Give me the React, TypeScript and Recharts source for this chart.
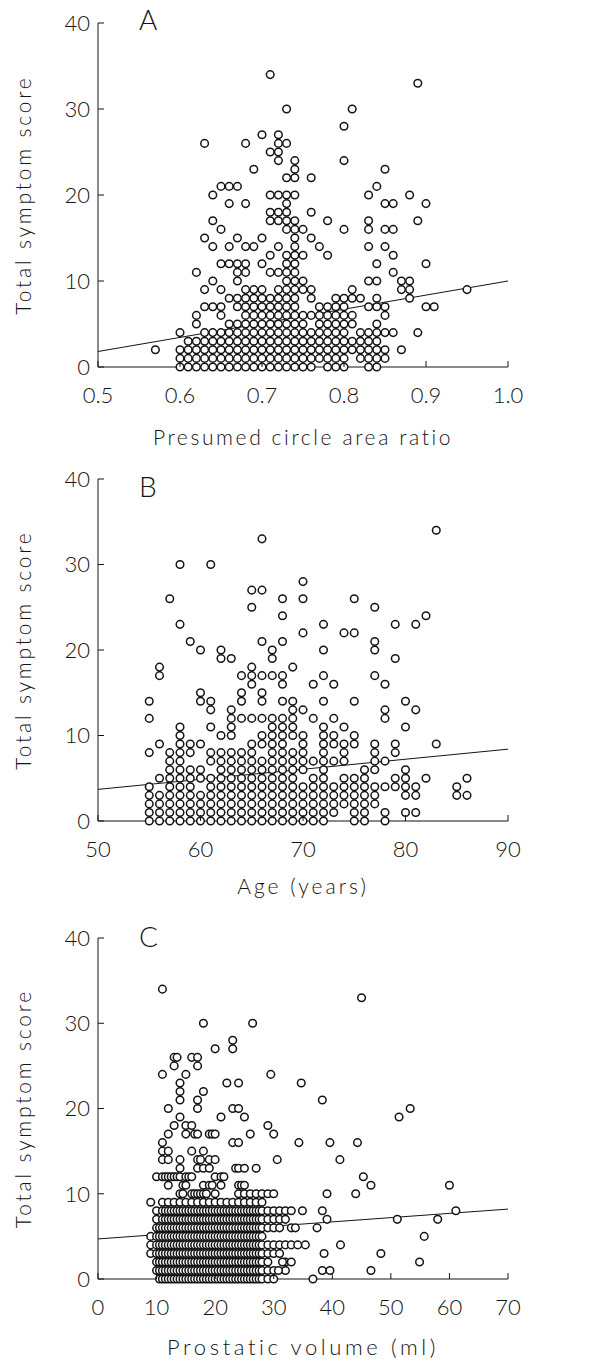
import { ScatterChart, Scatter, XAxis, YAxis, ReferenceLine } from 'recharts'

type Col = [number, number[]]

const INK = '#141414'
const FONT = "Lato, 'Open Sans', 'Liberation Sans', sans-serif"

// shared y axis
const scoreTicks = [0, 10, 20, 30, 40]
const scoreTitle = 'Total symptom score'

// A: presumed circle area ratio (x) -> scores stacked per column
const ratioTicks = [0.5, 0.6, 0.7, 0.8, 0.9, 1.0]
const ratioCols: Col[] = [
  [0.57, [2]],
  [0.6, [0, 1, 2, 4]],
  [0.61, [0, 1, 2, 3]],
  [0.62, [0, 1, 2, 3, 5, 6, 11]],
  [0.63, [0, 1, 2, 3, 4, 7, 9, 15, 26]],
  [0.64, [0, 1, 2, 3, 4, 7, 10, 14, 17, 20]],
  [0.65, [0, 1, 2, 3, 4, 6, 7, 9, 12, 16, 21]],
  [0.66, [0, 1, 2, 3, 4, 5, 8, 12, 14, 19, 21]],
  [0.67, [0, 1, 2, 3, 4, 5, 7, 8, 10, 11, 12, 15, 21]],
  [0.68, [0, 1, 2, 3, 4, 5, 6, 7, 8, 9, 11, 12, 14, 19, 26]],
  [0.69, [0, 1, 2, 3, 4, 5, 6, 7, 8, 9, 14, 23]],
  [0.7, [0, 1, 2, 3, 4, 5, 6, 7, 8, 9, 12, 15, 27]],
  [0.71, [0, 1, 2, 3, 4, 5, 6, 7, 8, 11, 13, 17, 18, 20, 25, 34]],
  [0.72, [0, 1, 2, 3, 4, 5, 6, 7, 8, 9, 11, 14, 17, 18, 20, 24, 25, 26, 27]],
  [0.73, [0, 1, 2, 3, 4, 5, 6, 7, 8, 9, 10, 11, 12, 13, 16, 17, 18, 19, 20, 22, 26, 30]],
  [0.74, [0, 1, 2, 3, 4, 5, 6, 7, 8, 9, 10, 11, 12, 13, 14, 15, 16, 17, 20, 22, 23, 24]],
  [0.75, [0, 1, 2, 3, 4, 5, 6, 9, 10, 13, 16]],
  [0.76, [0, 1, 2, 3, 4, 6, 8, 9, 15, 18, 22]],
  [0.77, [1, 2, 3, 4, 5, 6, 7, 14]],
  [0.78, [0, 1, 2, 3, 4, 5, 6, 7, 13, 17]],
  [0.79, [0, 1, 2, 3, 4, 5, 6, 7, 8]],
  [0.8, [0, 1, 2, 3, 4, 5, 6, 7, 8, 16, 24, 28]],
  [0.81, [2, 3, 5, 6, 8, 9, 30]],
  [0.82, [1, 2, 3, 4, 8]],
  [0.83, [0, 1, 2, 3, 4, 7, 10, 14, 16, 17, 20]],
  [0.84, [0, 1, 2, 3, 4, 5, 7, 8, 10, 12, 21]],
  [0.85, [1, 2, 4, 6, 7, 14, 16, 19, 23]],
  [0.86, [4, 11, 13, 16, 19]],
  [0.87, [2, 9, 10]],
  [0.88, [8, 9, 10, 20]],
  [0.89, [4, 17, 33]],
  [0.9, [7, 12, 19]],
  [0.91, [7]],
  [0.95, [9]],
]
const ratioFit = [{ x: 0.5, y: 1.8 }, { x: 1.0, y: 10 }]

// B: age in years
const ageTicks = [50, 60, 70, 80, 90]
const ageCols: Col[] = [
  [55, [0, 1, 2, 3, 4, 8, 12, 14]],
  [56, [0, 1, 2, 3, 5, 9, 17, 18]],
  [57, [0, 1, 2, 3, 4, 5, 6, 7, 8, 26]],
  [58, [0, 1, 2, 3, 4, 5, 6, 7, 8, 9, 10, 11, 23, 30]],
  [59, [0, 1, 2, 3, 4, 5, 6, 8, 9, 21]],
  [60, [0, 1, 2, 3, 5, 6, 9, 14, 15, 20]],
  [61, [0, 1, 2, 3, 4, 5, 7, 8, 11, 13, 14, 30]],
  [62, [0, 1, 2, 3, 4, 5, 6, 7, 8, 10, 19, 20]],
  [63, [0, 1, 2, 3, 4, 5, 6, 7, 8, 10, 11, 12, 13, 19]],
  [64, [0, 1, 2, 3, 4, 5, 6, 7, 8, 12, 14, 15, 17]],
  [65, [0, 1, 2, 3, 4, 5, 6, 7, 8, 9, 12, 16, 17, 18, 25, 27]],
  [66, [0, 1, 2, 3, 4, 5, 6, 7, 9, 10, 12, 14, 15, 17, 21, 27, 33]],
  [67, [0, 1, 2, 3, 4, 5, 6, 7, 8, 9, 10, 11, 12, 17, 19, 20]],
  [68, [0, 1, 2, 3, 4, 5, 6, 7, 8, 9, 10, 11, 12, 14, 16, 17, 21, 24, 26]],
  [69, [0, 1, 2, 3, 4, 5, 6, 7, 8, 10, 11, 12, 13, 14, 18]],
  [70, [0, 1, 2, 3, 4, 6, 7, 8, 9, 10, 13, 22, 26, 28]],
  [71, [0, 1, 2, 3, 4, 5, 7, 12, 16]],
  [72, [0, 1, 2, 3, 4, 5, 6, 7, 8, 9, 10, 11, 14, 17, 20, 23]],
  [73, [1, 2, 3, 4, 7, 9, 10, 12, 16]],
  [74, [2, 3, 4, 5, 7, 8, 9, 11, 22]],
  [75, [0, 1, 2, 3, 4, 5, 9, 10, 14, 22, 26]],
  [76, [0, 1, 2, 3, 4, 5, 6]],
  [77, [2, 3, 4, 6, 7, 8, 9, 17, 20, 21, 25]],
  [78, [0, 1, 4, 7, 12, 13, 16]],
  [79, [4, 5, 8, 9, 19, 23]],
  [80, [1, 3, 4, 5, 6, 11, 14]],
  [81, [1, 3, 4, 13, 23]],
  [82, [5, 24]],
  [83, [9, 34]],
  [85, [3, 4]],
  [86, [3, 5]],
]
const ageFit = [{ x: 50, y: 3.7 }, { x: 90, y: 8.4 }]

// C: prostatic volume (ml)
const volumeTicks = [0, 10, 20, 30, 40, 50, 60, 70]
const volumeCols: Col[] = [
  [9, [3, 4, 5, 9]],
  [10, [1, 2, 3, 4, 5, 6, 7, 8, 12]],
  [10.5, [0, 1, 2, 3, 4, 5, 6]],
  [11, [0, 1, 2, 3, 4, 5, 6, 7, 8, 9, 12, 14, 15, 16, 24, 34]],
  [11.5, [0, 1, 2, 3, 4, 5, 6, 7, 8, 12]],
  [12, [0, 1, 2, 3, 4, 5, 6, 7, 8, 9, 11, 12, 14, 15, 17, 20]],
  [12.5, [0, 1, 2, 3, 4, 5, 6, 7, 8, 12]],
  [13, [0, 1, 2, 3, 4, 5, 6, 7, 8, 9, 12, 18, 25, 26]],
  [13.5, [0, 1, 2, 3, 4, 5, 6, 7, 8, 12, 26]],
  [14, [0, 1, 2, 3, 4, 5, 6, 7, 8, 9, 10, 12, 13, 14, 19, 21, 22, 23]],
  [14.5, [0, 1, 2, 3, 4, 5, 6, 7, 8, 10, 11]],
  [15, [0, 1, 2, 3, 4, 5, 6, 7, 8, 9, 11, 12, 17, 18, 24]],
  [15.5, [0, 1, 2, 3, 4, 5, 6, 7, 8, 12]],
  [16, [0, 1, 2, 3, 4, 5, 6, 7, 8, 9, 10, 12, 15, 18, 26]],
  [16.5, [0, 1, 2, 3, 4, 5, 6, 7, 8, 10, 17]],
  [17, [0, 1, 2, 3, 4, 5, 6, 7, 8, 9, 10, 13, 14, 17, 20, 21, 25, 26]],
  [17.5, [0, 1, 2, 3, 4, 5, 6, 7, 8, 10, 14]],
  [18, [0, 1, 2, 3, 4, 5, 6, 7, 8, 9, 10, 11, 13, 15, 22, 30]],
  [18.5, [0, 1, 2, 3, 4, 5, 6, 7, 8, 10]],
  [19, [0, 1, 2, 3, 4, 5, 6, 7, 8, 9, 11, 13, 14, 17]],
  [19.5, [0, 1, 2, 3, 4, 5, 6, 7, 8, 11, 17]],
  [20, [0, 1, 2, 3, 4, 5, 6, 7, 8, 9, 10, 12, 14, 17, 27]],
  [20.5, [0, 1, 2, 3, 4, 5, 6, 7, 8]],
  [21, [0, 1, 2, 3, 4, 5, 6, 7, 8, 9, 11, 12, 19]],
  [21.5, [0, 1, 2, 3, 4, 5, 6, 7, 8, 12]],
  [22, [0, 1, 2, 3, 4, 5, 6, 7, 8, 9, 23]],
  [22.5, [0, 1, 2, 3, 4, 5, 6, 7, 8]],
  [23, [0, 1, 2, 3, 4, 5, 6, 7, 8, 9, 16, 20, 27, 28]],
  [23.5, [0, 1, 2, 3, 4, 5, 6, 7, 8, 13]],
  [24, [0, 1, 2, 3, 4, 5, 6, 7, 8, 9, 10, 11, 13, 16, 20, 23]],
  [24.5, [0, 1, 2, 3, 4, 5, 6, 7, 8, 11]],
  [25, [0, 1, 2, 3, 4, 5, 6, 7, 8, 9, 10, 11, 13, 19]],
  [25.5, [0, 1, 2, 3, 4, 5, 6, 7, 8]],
  [26, [0, 1, 2, 3, 4, 5, 6, 7, 8, 9, 10, 17]],
  [26.5, [0, 1, 2, 3, 4, 5, 6, 7, 8]],
  [27, [0, 1, 2, 3, 4, 5, 6, 7, 8, 9, 10, 13]],
  [27.5, [0, 1, 2, 3, 4, 5, 6, 7, 8]],
  [28, [0, 1, 2, 3, 4, 5, 6, 7, 8, 9, 10]],
  [29, [0, 1, 2, 3, 4, 6, 7, 8, 10, 18]],
  [30, [0, 1, 3, 4, 6, 7, 8, 10, 17]],
  [31, [3, 4, 6, 7, 8]],
  [32, [2, 4, 7, 8]],
  [33, [2, 4, 6, 8]],
]
// scattered cases to the right
const volumeLoose: [number, number][] = [
  [26.4, 30], [30.6, 14], [29.5, 24], [34.7, 23], [38.3, 21], [51.4, 19], [53.3, 20],
  [34.3, 16], [39.6, 16], [44.3, 16], [41.3, 14], [45.3, 12], [46.6, 11], [60, 11],
  [39.1, 10], [44, 10], [61.1, 8], [51.1, 7], [58, 7], [39.1, 7], [38.3, 8], [55.7, 5],
  [41.4, 4], [48.3, 3], [54.9, 2], [46.6, 1], [38.3, 1], [39.6, 1], [36.7, 0], [38.6, 3],
  [37.4, 6], [33.7, 6], [34.9, 8], [35.4, 4], [34.1, 4], [31.5, 2], [32, 1], [30.8, 1],
  [45, 33],
]
const volumeFit = [{ x: 0, y: 4.7 }, { x: 70, y: 8.2 }]

const toPoints = (cols: Col[]) => cols.flatMap(([x, ys]) => ys.map((y) => ({ x, y })))

const Dot = (props: any) => (
  <circle cx={props.cx} cy={props.cy} r={3.8} fill="#fff" stroke={INK} strokeWidth={1.5} />
)

function XTick(props: any) {
  const { x, y, payload, fmt } = props
  return (
    <g>
      <line x1={x} y1={y} x2={x} y2={y - 6} stroke={INK} strokeWidth={1} />
      <text x={x} y={y + 36} textAnchor="middle" fontSize={22} fontWeight={300}
        fontFamily={FONT} fill={INK}>{fmt(payload.value)}</text>
    </g>
  )
}

function YTick(props: any) {
  const { x, y, payload } = props
  return (
    <g>
      <line x1={x} y1={y} x2={x + 6} y2={y} stroke={INK} strokeWidth={1} />
      <text x={x - 8} y={y} dy="0.36em" textAnchor="end" fontSize={22} fontWeight={300}
        fontFamily={FONT} fill={INK}>{payload.value}</text>
    </g>
  )
}

interface PanelProps {
  plotTop: number
  plotH: number
  letter: string
  letterTop: number
  points: { x: number; y: number }[]
  fit: { x: number; y: number }[]
  domain: [number, number]
  ticks: number[]
  fmt: (v: number) => string
  title: string
  titleSize: number
  titleSpacing: number
  titleOffset: number
}

function Panel(p: PanelProps) {
  const axisH = 92
  const h = 23 + p.plotH + axisH
  return (
    <div style={{ position: 'absolute', left: 0, top: p.plotTop - 23, width: 589, height: h }}>
      <ScatterChart width={589} height={h} margin={{ top: 23, right: 81, bottom: 0, left: 0 }}>
        <XAxis type="number" dataKey="x" domain={p.domain} ticks={p.ticks} interval={0}
          height={axisH} tickSize={0} tickMargin={0} tickLine={false}
          axisLine={{ stroke: INK, strokeWidth: 1 }}
          tick={(t: any) => <XTick {...t} fmt={p.fmt} />}
          label={{ value: p.title, position: 'insideBottom', offset: p.titleOffset,
            style: { fontSize: p.titleSize, fontFamily: FONT, fontWeight: 300, fill: INK, letterSpacing: p.titleSpacing } }} />
        <YAxis type="number" dataKey="y" domain={[0, 40]} ticks={scoreTicks} interval={0}
          width={98} tickSize={0} tickMargin={0} tickLine={false}
          axisLine={{ stroke: INK, strokeWidth: 1 }}
          tick={(t: any) => <YTick {...t} />}
          label={{ value: scoreTitle, angle: -90, position: 'insideLeft', offset: 24,
            style: { textAnchor: 'middle', fontSize: 21, fontFamily: FONT, fontWeight: 300, fill: INK, letterSpacing: 2.8 } }} />
        <Scatter data={p.points} shape={Dot} isAnimationActive={false} />
        <ReferenceLine segment={p.fit} stroke={INK} strokeWidth={1} ifOverflow="visible" />
      </ScatterChart>
      <div style={{ position: 'absolute', left: 139, top: p.letterTop - (p.plotTop - 23) - 7,
        fontFamily: FONT, fontSize: 28, fontWeight: 300, color: INK, lineHeight: 1 }}>{p.letter}</div>
    </div>
  )
}

export default function App() {
  return (
    <div style={{ position: 'absolute', left: 0, top: 0, width: 589, height: 1361, background: '#fff' }}>
      <Panel plotTop={23} plotH={344} letter="A" letterTop={12} points={toPoints(ratioCols)}
        fit={ratioFit} domain={[0.5, 1.0]} ticks={ratioTicks} fmt={(v) => v.toFixed(1)}
        title="Presumed circle area ratio" titleSize={21} titleSpacing={2.6} titleOffset={14} />
      <Panel plotTop={479} plotH={342} letter="B" letterTop={479} points={toPoints(ageCols)}
        fit={ageFit} domain={[50, 90]} ticks={ageTicks} fmt={(v) => String(v)}
        title="Age (years)" titleSize={21} titleSpacing={3} titleOffset={19} />
      <Panel plotTop={938} plotH={341} letter="C" letterTop={929}
        points={[...toPoints(volumeCols), ...volumeLoose.map(([x, y]) => ({ x, y }))]}
        fit={volumeFit} domain={[0, 70]} ticks={volumeTicks} fmt={(v) => String(v)}
        title="Prostatic volume (ml)" titleSize={22} titleSpacing={3.6} titleOffset={16} />
    </div>
  )
}
